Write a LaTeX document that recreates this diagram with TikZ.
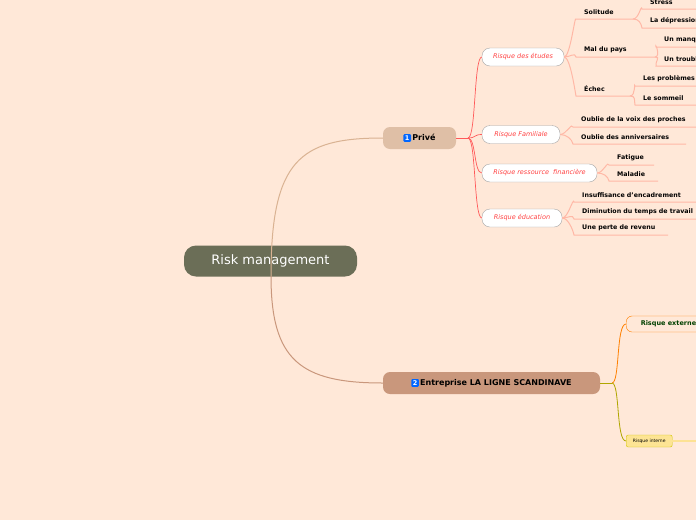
\documentclass[tikz,border=0pt]{standalone}
\usepackage{fontspec}
\setmainfont{DejaVu Sans}
\begin{document}
\begin{tikzpicture}[x=1pt,y=-1pt,
  leaf/.style={anchor=west,inner sep=0pt,font=\fontsize{6.3}{7}\selectfont\bfseries,text=black},
  rk/.style={draw=gray!70,fill=white,rounded corners=8pt,minimum height=18pt,inner xsep=4pt,font=\fontsize{6.5}{7}\itshape,text=red!75},
  red line/.style={draw=red!65,line width=0.7pt},
  ul/.style={draw=orange!40!red!35,line width=1pt},
  icon/.style={fill=blue!60!cyan,text=white,rounded corners=1pt,inner sep=1.5pt,minimum width=0pt,minimum height=0pt,font=\fontsize{6.5}{6}\selectfont\bfseries}]
\definecolor{bg}{HTML}{FFE8D8}
\definecolor{cent}{HTML}{6B6E57}
\definecolor{prv}{HTML}{DFBFA6}
\definecolor{ent}{HTML}{C9977C}
\fill[bg] (0,0) rectangle (696,520);
\useasboundingbox (0,0) rectangle (696,520);
\clip (0,0) rectangle (696,520);
% central
\node[fill=cent,text=white,rounded corners=12pt,minimum width=173pt,minimum height=31pt,font=\fontsize{13}{14}\selectfont] (c) at (270.5,261) {Risk management};
\node[fill=prv,rounded corners=7pt,minimum width=73pt,minimum height=22pt,font=\fontsize{8}{9}\selectfont\bfseries] (p) at (419.5,138) {\tikz[baseline=(i.base)]\node[icon](i){1};\,Privé};
\node[fill=ent,rounded corners=7pt,minimum width=217pt,minimum height=22pt,font=\fontsize{8}{9}\selectfont\bfseries] (e) at (491.5,383) {\tikz[baseline=(i.base)]\node[icon](i){2};\,Entreprise LA LIGNE SCANDINAVE};
\draw[draw=prv!80!brown,line width=1pt] (271,276) .. controls (271,160) and (300,138) .. (p.west);
\draw[draw=ent,line width=1pt] (271,276) .. controls (271,360) and (300,383) .. (e.west);
% prive children
\node[rk,minimum width=82pt] (r1) at (523,57) {Risque des études};
\node[rk,minimum width=78pt] (r2) at (521,134.5) {Risque Familiale};
\node[rk,minimum width=115pt] (r3) at (539.5,173) {Risque ressource \ financière};
\node[rk,minimum width=80pt] (r4) at (522,218) {Risque éducation};
\coordinate (pj) at (468,138);
\draw[red line] (p.east) -- (pj);
\foreach \r in {r1,r2,r3,r4}
  \draw[red line] (pj) .. controls +(8,0) and +(-8,0) .. (\r.west);
\newcommand{\lf}[6]{% name, parent, x0, y, x1, text
  \node[leaf] (#1) at (#3+10,#4-7) {#6};
  \draw[ul] (#2) .. controls +(6,0) and +(-1,-5) .. (#3+2,#4) -- (#5,#4);}
\coordinate (r1e) at (r1.east);
\lf{so}{r1e}{574}{19}{633}{Solitude}
\lf{mp}{r1e}{574}{57}{655}{Mal du pays}
\lf{ec}{r1e}{574}{96}{630}{Échec}
\lf{st}{633,19}{640}{9}{700}{Stress}
\lf{ld}{633,19}{640}{28}{700}{La dépression}
\lf{um}{655,57}{654}{47}{700}{Un manque}
\lf{ut}{655,57}{654}{66}{700}{Un trouble}
\lf{lp}{630,96}{633}{86}{700}{Les problèmes}
\lf{ls}{630,96}{633}{105}{700}{Le sommeil}
\coordinate (r2e) at (r2.east);
\lf{ov}{r2e}{571}{127}{700}{Oublie de la voix des proches}
\lf{oa}{r2e}{571}{144}{686}{Oublie des anniversaires}
\coordinate (r3e) at (r3.east);
\lf{fa}{r3e}{607}{165}{654}{Fatigue}
\lf{ma}{r3e}{607}{181}{658}{Maladie}
\coordinate (r4e) at (r4.east);
\lf{ie}{r4e}{572}{202}{700}{Insuffisance d'encadrement}
\lf{dt}{r4e}{572}{219}{700}{Diminution du temps de travail}
\lf{pr}{r4e}{572}{235}{668}{Une perte de revenu}
% entreprise children
\node[draw=orange,fill=bg,rounded corners=6pt,minimum width=80pt,minimum height=16pt,anchor=west,font=\fontsize{6.5}{7}\selectfont\bfseries,text=green!25!black] (ex) at (626,324) {\ \ Risque externe};
\node[draw=yellow!60!olive,fill=yellow!55!orange!40,rounded corners=2pt,minimum width=46pt,minimum height=12pt,inner sep=1pt,anchor=west,font=\fontsize{4.5}{5}\selectfont] (in) at (626,441) {Risque interne};
\coordinate (ej) at (612,383);
\draw[draw=olive!70!yellow,line width=0.8pt] (e.east) -- (ej);
\draw[draw=orange,line width=0.8pt] (ej) .. controls +(8,0) and +(-10,0) .. (ex.west);
\draw[draw=olive!70!yellow,line width=0.8pt] (ej) .. controls +(8,0) and +(-10,0) .. (in.west);
\draw[draw=yellow!50!orange!40,line width=1.5pt] (in.east) -- (700,441);
\end{tikzpicture}
\end{document}
